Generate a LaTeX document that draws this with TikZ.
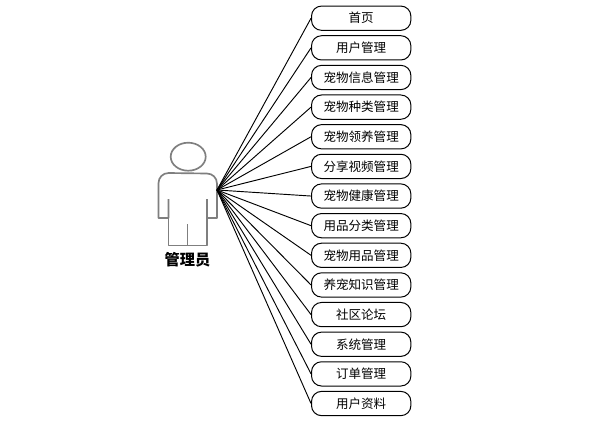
\documentclass[tikz,border=0pt]{standalone}
\usepackage{fontspec}
\setmainfont{Noto Sans CJK SC}
\definecolor{figgray}{HTML}{7F7F7F}
\tikzset{
  x=0.75pt,y=-0.75pt,
  uc/.style={draw=black,line width=0.75pt,rounded corners=7.5pt,minimum width=74.5pt,minimum height=18.2pt,inner sep=0pt,font=\fontsize{9.4pt}{11pt}\selectfont,text=black,anchor=center},
  link/.style={draw=black,line width=0.7pt},
  person/.style={draw=figgray,line width=1.25pt,line join=round},
  actorlabel/.style={font=\fontsize{11.4pt}{13pt}\selectfont\bfseries,text=black,inner sep=0pt}
}
\begin{document}
\begin{tikzpicture}
\useasboundingbox (0,0) rectangle (601,422);
\fill[white] (0,0) rectangle (601,422);
% person
\draw[person] (188.2,156.7) ellipse [x radius=17.5,y radius=14];
\draw[person] (168.5,199) -- (168.5,218) -- (158.5,218) -- (158.5,183) arc[start angle=180,end angle=90,x radius=10,y radius=-10] -- (207,173.5) arc[start angle=90,end angle=0,x radius=10,y radius=-10] -- (217,218) -- (207,218) -- (207,199);
\draw[person] (168.5,218) -- (168.5,245.5) -- (207,245.5) -- (207,218);
\draw[person] (187.5,224) -- (187.5,245.5);
\coordinate (hub) at (217,190);
\node[actorlabel] (actor) at (187.5,260) {管理员};
\foreach \i/\t in {0/首页,1/用户管理,2/宠物信息管理,3/宠物种类管理,4/宠物领养管理,5/分享视频管理,6/宠物健康管理,7/用品分类管理,8/宠物用品管理,9/养宠知识管理,10/社区论坛,11/系统管理,12/订单管理,13/用户资料}{
  \node[uc] (n\i) at (361.2,{18.2+29.64*\i}) {\raisebox{-0.7pt}{\t}};
  \draw[link] (hub) -- (n\i.west);
}
\end{tikzpicture}
\end{document}
